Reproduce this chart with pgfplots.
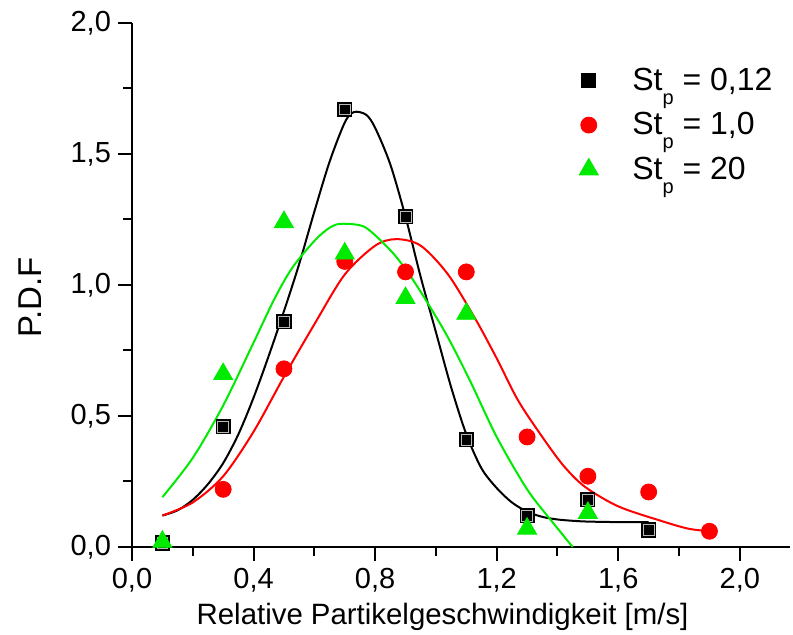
\documentclass[border=0pt]{standalone}
\usepackage{fontspec}
\setmainfont{Liberation Sans}
\usepackage{pgfplots}
\pgfplotsset{compat=1.18}
\definecolor{pgreen}{RGB}{0,235,0}
\definecolor{pred}{RGB}{255,0,0}
\newcommand{\stp}{St\raisebox{-7pt}{\fontsize{10}{10}\selectfont p}}

\begin{document}
\begin{tikzpicture}
\begin{axis}[
  scale only axis,
  width=329pt, height=262pt,
  xmin=0, xmax=2.165, ymin=0, ymax=2,
  axis lines=left,
  axis line style={-, line width=1pt},
  xtick={0,0.4,0.8,1.2,1.6,2.0},
  ytick={0,0.5,1.0,1.5,2.0},
  minor x tick num=1, minor y tick num=1,
  tick align=outside,
  major tick length=7pt, minor tick length=4.5pt,
  every tick/.style={black, line width=1pt},
  tick label style={font=\fontsize{14.5}{16}\selectfont},
  /pgf/number format/.cd, fixed, fixed zerofill, precision=1, use comma, assume math mode=true,
  /pgfplots/.cd,
  xlabel={Relative Partikelgeschwindigkeit [m/s]},
  ylabel={P.D.F},
  xlabel style={font=\fontsize{14.7}{16}\selectfont, at={(axis description cs:0.472,-0.134)}, anchor=center},
  ylabel style={font=\fontsize{16.5}{18}\selectfont, at={(axis description cs:-0.155,0.477)}, anchor=center},
  legend style={at={(0.67,0.93)}, anchor=north west, draw=none, fill=none,
    font=\fontsize{16}{18}\selectfont, row sep=5.5pt,
    /tikz/every odd column/.append style={column sep=15pt}},
  legend cell align=left,
  clip=false,
]
% fitted curves
\addplot[black, line width=1pt, smooth, forget plot] coordinates {
(0.10,0.12) (0.15,0.14) (0.20,0.18) (0.25,0.24) (0.30,0.32) (0.35,0.43)
(0.40,0.57) (0.45,0.73) (0.50,0.90) (0.55,1.08) (0.60,1.28) (0.65,1.47)
(0.70,1.62) (0.73,1.66) (0.77,1.65) (0.80,1.60) (0.85,1.46) (0.90,1.26)
(0.95,1.03) (1.00,0.82) (1.05,0.61) (1.10,0.43) (1.15,0.30) (1.20,0.225)
(1.25,0.17) (1.30,0.135) (1.35,0.115) (1.40,0.105) (1.45,0.10) (1.50,0.097)
(1.60,0.095) (1.70,0.095)};
\addplot[pred, line width=1pt, smooth, forget plot] coordinates {
(0.10,0.12) (0.20,0.17) (0.30,0.27) (0.40,0.44) (0.50,0.65) (0.60,0.85)
(0.70,1.04) (0.80,1.15) (0.87,1.175) (0.95,1.15) (1.04,1.04) (1.13,0.87)
(1.20,0.72) (1.27,0.56) (1.35,0.42) (1.42,0.31) (1.49,0.23) (1.60,0.155)
(1.74,0.10) (1.83,0.07) (1.90,0.06)};
\addplot[pgreen, line width=1pt, smooth, forget plot] coordinates {
(0.10,0.19) (0.20,0.34) (0.30,0.54) (0.40,0.78) (0.47,0.95) (0.53,1.07)
(0.61,1.18) (0.67,1.23) (0.74,1.23) (0.78,1.21) (0.86,1.12) (0.93,1.01)
(1.03,0.82) (1.11,0.64) (1.20,0.42) (1.30,0.22) (1.38,0.10) (1.45,0.00)};
% measured points
\addplot[only marks, mark=square*, mark size=3.5pt, mark options={fill=black, draw=black, line width=0.6pt}] coordinates {
(0.1,0.015) (0.3,0.46) (0.5,0.86) (0.7,1.67) (0.9,1.26) (1.1,0.41) (1.3,0.12) (1.5,0.18) (1.7,0.065)};
\addlegendentry{\stp\ = 0,12}
\addplot[only marks, mark=square, mark size=2.7pt, mark options={draw=gray!55, line width=0.35pt}, forget plot] coordinates {
(0.1,0.015) (0.3,0.46) (0.5,0.86) (0.7,1.67) (0.9,1.26) (1.1,0.41) (1.3,0.12) (1.5,0.18) (1.7,0.065)};
\addplot[only marks, mark=*, mark size=4pt, mark options={fill=pred, draw=pred}] coordinates {
(0.3,0.22) (0.5,0.68) (0.7,1.09) (0.9,1.05) (1.1,1.05) (1.3,0.42) (1.5,0.27) (1.7,0.21) (1.9,0.06)};
\addlegendentry{\stp\ = 1,0}
\addplot[only marks, mark=triangle*, mark size=5.5pt, mark options={fill=pgreen, draw=pgreen}] coordinates {
(0.1,0.02) (0.3,0.66) (0.5,1.24) (0.7,1.12) (0.9,0.95) (1.1,0.89) (1.3,0.07) (1.5,0.13)};
\addlegendentry{\stp\ = 20}
\end{axis}
\pgfresetboundingbox
\path (-66pt,-44pt) rectangle (330.5pt,273.5pt);
\end{tikzpicture}
\end{document}
